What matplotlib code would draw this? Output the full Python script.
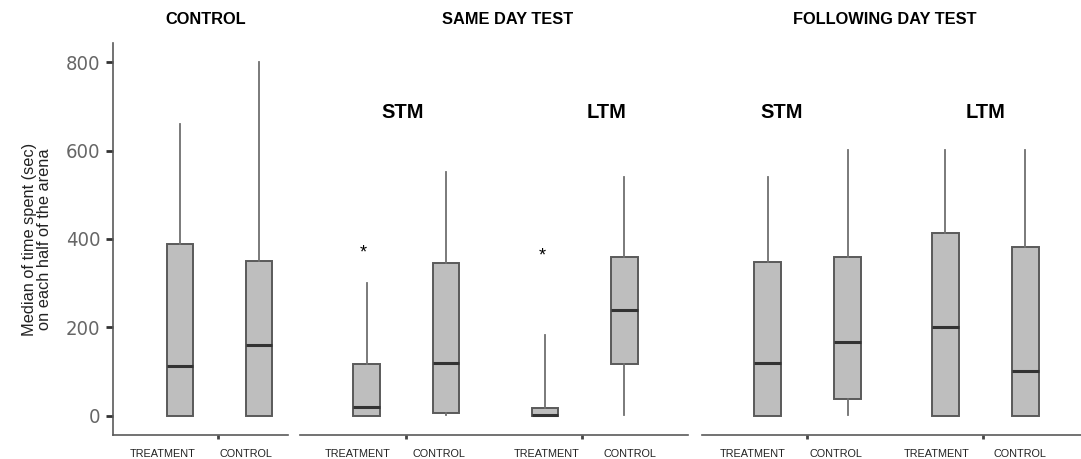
import matplotlib.pyplot as plt

# === Box statistics (sec) === #
# each entry: (lower whisker, Q1, median, Q3, upper whisker)
control_stats = [(0, 0, 114, 389, 660),
                 (0, 0, 160, 350, 800)]
same_day_stats = [(0, 0, 20, 117, 300),
                  (2, 6, 119, 345, 552),
                  (0, 0, 2, 18, 183),
                  (2, 117, 240, 359, 541)]
next_day_stats = [(0, 0, 119, 349, 541),
                  (2, 38, 168, 360, 601),
                  (0, 0, 200, 413, 601),
                  (0, 0, 102, 381, 601)]

group_labels = ["TREATMENT", "CONTROL"]
panel_titles = ["CONTROL", "SAME DAY TEST", "FOLLOWING DAY TEST"]
sub_titles = ["STM", "LTM"]
star_values = [369, 362]   # asterisks over the treatment boxes of same day test
y_ticks = [0, 200, 400, 600, 800]
y_label = "Median of time spent (sec)\non each half of the arena"

W, H = 1081, 459
fig = plt.figure(figsize=(W / 100, H / 100), dpi=100)
plt.rcParams['font.family'] = ['Liberation Sans', 'DejaVu Sans']

BOX_FILL = '#bebebe'
EDGE = '#5a5a5a'


def px_axes(x0, x1, y0=43, y1=435):
    return fig.add_axes([x0 / W, 1 - y1 / H, (x1 - x0) / W, (y1 - y0) / H])


def to_bxp(stats):
    out = []
    for lo, q1, med, q3, hi in stats:
        out.append(dict(whislo=lo, q1=q1, med=med, q3=q3, whishi=hi, fliers=[]))
    return out


def draw_panel(ax, stats, positions, xlim, ticks, label_pos):
    ax.bxp(to_bxp(stats), positions=positions, widths=0.34, patch_artist=True,
           showcaps=False, showfliers=False,
           boxprops=dict(facecolor=BOX_FILL, edgecolor=EDGE, linewidth=1.4),
           medianprops=dict(color='#333333', linewidth=2.2),
           whiskerprops=dict(color='#707070', linewidth=1.3))
    ax.set_xlim(*xlim)
    ax.set_ylim(-43, 843)
    for s in ['top', 'right', 'left']:
        ax.spines[s].set_visible(False)
    ax.spines['bottom'].set_color(EDGE)
    ax.spines['bottom'].set_linewidth(1.2)
    ax.set_xticks(ticks)
    ax.set_xticklabels([])
    ax.tick_params(axis='x', which='major', length=3, width=2, color='#444444')
    ax.set_xticks(label_pos, minor=True)
    ax.set_xticklabels(group_labels * (len(label_pos) // 2), minor=True,
                       fontsize=7.8, color='#222222')
    ax.tick_params(axis='x', which='minor', length=0, pad=10)
    ax.set_yticks([])


# === Panel 1: control === #
ax1 = px_axes(113, 288)
draw_panel(ax1, control_stats, [1, 2], (0.152, 2.367), [1.48], [0.785, 1.835])
ax1.spines['left'].set_visible(True)
ax1.spines['left'].set_color(EDGE)
ax1.spines['left'].set_linewidth(1.2)
ax1.set_yticks(y_ticks)
ax1.set_yticklabels([str(v) for v in y_ticks], family='DejaVu Sans',
                    fontstretch='condensed', fontsize=14.5, color='#666666')
ax1.tick_params(axis='y', length=5, width=2, color='#333333', pad=4)
ax1.set_ylabel(y_label, fontsize=11.8, color='#222222', labelpad=10,
               linespacing=1.05)

# === Panel 2: same day test === #
ax2 = px_axes(300, 688)
pos4 = [1, 2, 3.25, 4.25]
draw_panel(ax2, same_day_stats, pos4, (0.157, 5.055), [1.49, 3.72],
           [0.887, 1.91, 3.275, 4.325])
ax2.text(0.96, star_values[0], "*", ha='center', va='center', fontsize=13)
ax2.text(3.21, star_values[1], "*", ha='center', va='center', fontsize=13)

# === Panel 3: following day test === #
ax3 = px_axes(702, 1081)
pos4b = [1, 2, 3.22, 4.22]
draw_panel(ax3, next_day_stats, pos4b, (0.175, 4.92), [1.49, 3.695],
           [0.81, 1.85, 3.11, 4.16])

# === Titles === #
for x, t in [(206, panel_titles[0]), (508, panel_titles[1]),
             (885, panel_titles[2])]:
    fig.text(x / W, 1 - 20 / H, t, ha='center', va='center',
             fontsize=11.8, fontweight='bold')

for x, t in [(403, sub_titles[0]), (607, sub_titles[1]),
             (782, sub_titles[0]), (986, sub_titles[1])]:
    fig.text(x / W, 1 - 113 / H, t, ha='center', va='center',
             fontsize=14.5, fontweight='bold')

fig.savefig("out.png", dpi=100)
